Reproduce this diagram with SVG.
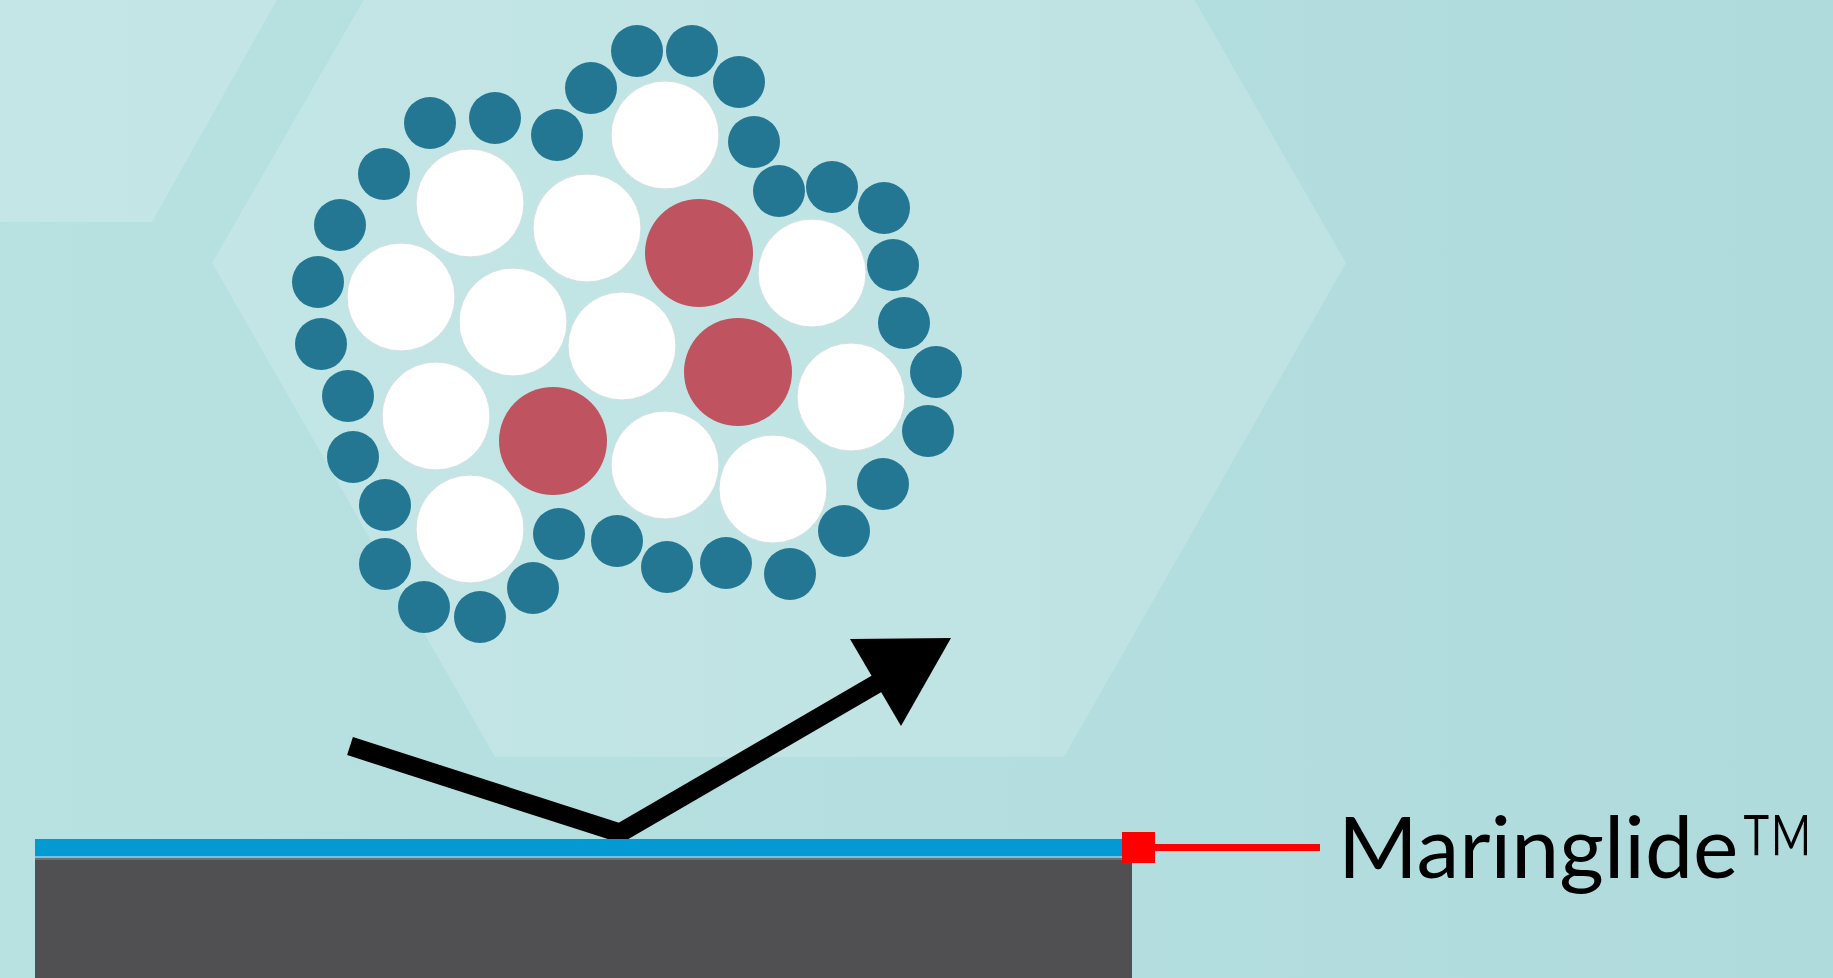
<svg xmlns="http://www.w3.org/2000/svg" width="1833" height="978" viewBox="0 0 1833 978">
  <style>
    .s { fill: #237793; }
    .w { fill: #ffffff; stroke: #cfdfe0; stroke-width: 1; }
    .r { fill: #bf5460; }
    .hex { fill: #ffffff; fill-opacity: 0.17; }
    .label { font-family: Lato, "Noto Sans", "Liberation Sans", sans-serif; fill: #000000; }
  </style>
  <defs>
    <linearGradient id="bg" x1="0" y1="0" x2="1" y2="0">
      <stop offset="0" stop-color="#b8e1e1"/>
      <stop offset="1" stop-color="#b0dbdd"/>
    </linearGradient>
  </defs>

  <!-- backdrop with faint hexagon panels -->
  <rect width="1833" height="978" fill="url(#bg)"/>
  <polygon class="hex" points="0,0 277,0 152,222 0,222"/>
  <polygon class="hex" points="212,263 496,-230 1062,-230 1346,263 1064,757 495,757"/>

  <!-- fouling particle cluster -->
  <g id="cluster">
    <circle class="s" cx="637" cy="51" r="26"/>
    <circle class="s" cx="692" cy="51" r="26"/>
    <circle class="s" cx="739" cy="82" r="26"/>
    <circle class="s" cx="591" cy="88" r="26"/>
    <circle class="s" cx="754" cy="142" r="26"/>
    <circle class="s" cx="557" cy="135" r="26"/>
    <circle class="s" cx="495" cy="118" r="26"/>
    <circle class="s" cx="430" cy="123" r="26"/>
    <circle class="s" cx="384" cy="174" r="26"/>
    <circle class="s" cx="340" cy="225" r="26"/>
    <circle class="s" cx="318" cy="282" r="26"/>
    <circle class="s" cx="321" cy="344" r="26"/>
    <circle class="s" cx="348" cy="396" r="26"/>
    <circle class="s" cx="353" cy="457" r="26"/>
    <circle class="s" cx="385" cy="505" r="26"/>
    <circle class="s" cx="385" cy="564" r="26"/>
    <circle class="s" cx="424" cy="607" r="26"/>
    <circle class="s" cx="480" cy="617" r="26"/>
    <circle class="s" cx="533" cy="588" r="26"/>
    <circle class="s" cx="559" cy="534" r="26"/>
    <circle class="s" cx="617" cy="541" r="26"/>
    <circle class="s" cx="667" cy="567" r="26"/>
    <circle class="s" cx="726" cy="563" r="26"/>
    <circle class="s" cx="790" cy="574" r="26"/>
    <circle class="s" cx="844" cy="531" r="26"/>
    <circle class="s" cx="883" cy="484" r="26"/>
    <circle class="s" cx="928" cy="431" r="26"/>
    <circle class="s" cx="936" cy="372" r="26"/>
    <circle class="s" cx="904" cy="323" r="26"/>
    <circle class="s" cx="893" cy="265" r="26"/>
    <circle class="s" cx="884" cy="208" r="26"/>
    <circle class="s" cx="832" cy="187" r="26"/>
    <circle class="s" cx="779" cy="191" r="26"/>

    <circle class="w" cx="665" cy="135" r="54"/>
    <circle class="w" cx="470" cy="203" r="54"/>
    <circle class="w" cx="587" cy="228" r="54"/>
    <circle class="w" cx="401" cy="297" r="54"/>
    <circle class="w" cx="513" cy="322" r="54"/>
    <circle class="w" cx="622" cy="346" r="54"/>
    <circle class="w" cx="812" cy="273" r="54"/>
    <circle class="w" cx="436" cy="416" r="54"/>
    <circle class="w" cx="665" cy="465" r="54"/>
    <circle class="w" cx="851" cy="397" r="54"/>
    <circle class="w" cx="773" cy="489" r="54"/>
    <circle class="w" cx="470" cy="529" r="54"/>

    <circle class="r" cx="699" cy="253" r="54"/>
    <circle class="r" cx="738" cy="372" r="54"/>
    <circle class="r" cx="553" cy="441" r="54"/>
  </g>

  <!-- connectors: deflection arrow and coating leader -->
  <g id="connectors">
    <polyline points="350,746 620,833 878,683" fill="none" stroke="#000000" stroke-width="19" stroke-linejoin="miter"/>
    <polygon points="951,638 850,639 901,726" fill="#000000"/>
    <rect x="1155" y="844" width="165" height="7" fill="#ff0000"/>
  </g>

  <!-- coated hull section -->
  <g id="substrate">
    <rect x="35" y="839" width="1097" height="17" fill="#0399d3"/>
    <rect x="35" y="856" width="1097" height="2" fill="#6cc6ea"/>
    <rect x="35" y="858" width="1097" height="120" fill="#505052"/>
    <rect x="35" y="858" width="1097" height="2" fill="#6e7072"/>
  </g>

  <!-- coating label -->
  <g id="label">
    <rect x="1122" y="832" width="33" height="31" fill="#ff0000"/>
    <text class="label" x="1338" y="878" font-size="86">Maringlide</text>
    <text class="label" font-size="140" font-weight="300" transform="translate(1739,914) scale(0.74,1)">™</text>
  </g>
</svg>
